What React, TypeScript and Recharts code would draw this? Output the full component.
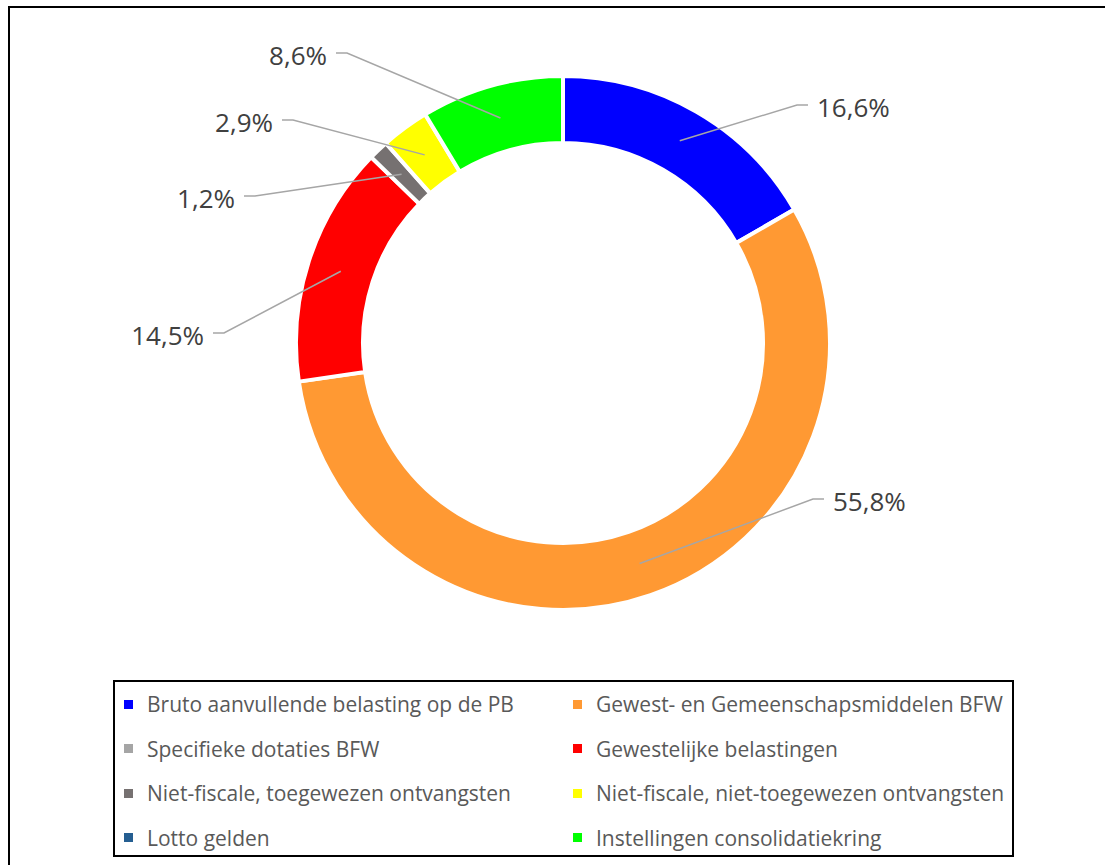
import { Cell, Legend, Pie, PieChart } from "recharts";

const categories = [
  "Bruto aanvullende belasting op de PB",
  "Gewest- en Gemeenschapsmiddelen BFW",
  "Specifieke dotaties BFW",
  "Gewestelijke belastingen",
  "Niet-fiscale, toegewezen ontvangsten",
  "Niet-fiscale, niet-toegewezen ontvangsten",
  "Lotto gelden",
  "Instellingen consolidatiekring",
];

const shares = [16.6, 55.8, 0, 14.5, 1.2, 2.9, 0, 8.6];

const colors = [
  "#0000FF",
  "#FF9933",
  "#A5A5A5",
  "#FF0000",
  "#767171",
  "#FFFF00",
  "#255E91",
  "#00FF00",
];

// where each label's leader line bends, relative to the donut centre
const labelAnchors: Record<string, [number, number]> = {
  "Bruto aanvullende belasting op de PB": [234, -238],
  "Gewest- en Gemeenschapsmiddelen BFW": [250, 156],
  "Gewestelijke belastingen": [-339, -10],
  "Niet-fiscale, toegewezen ontvangsten": [-308, -147],
  "Niet-fiscale, niet-toegewezen ontvangsten": [-270, -223],
  "Instellingen consolidatiekring": [-216, -290],
};

const data = categories.map((name, i) => ({ name, value: shares[i], color: colors[i] }));

const RADIAN = Math.PI / 180;
const fmt = (v: number) => v.toFixed(1).replace(".", ",") + "%";

function renderLabel(props: any) {
  const { cx, cy, midAngle, innerRadius, outerRadius, value, name } = props;
  const anchor = labelAnchors[name];
  if (!value || !anchor) return null;
  const r = (innerRadius + outerRadius) / 2;
  const sx = cx + r * Math.cos(-midAngle * RADIAN);
  const sy = cy + r * Math.sin(-midAngle * RADIAN);
  const ex = cx + anchor[0];
  const ey = cy + anchor[1];
  const side = anchor[0] > 0 ? 1 : -1;
  const hx = ex + side * 11;
  return (
    <g>
      <polyline
        points={`${sx},${sy} ${ex},${ey} ${hx},${ey}`}
        fill="none"
        stroke="#A6A6A6"
        strokeWidth={1.5}
      />
      <text
        x={hx + side * 9}
        y={ey + 2}
        textAnchor={side > 0 ? "start" : "end"}
        dominantBaseline="central"
        fill="#404040"
        fontSize={26}
        fontFamily="'Open Sans', sans-serif"
      >
        {fmt(value)}
      </text>
    </g>
  );
}

// keep the legend in data order (recharts sorts the payload by default)
function LegendBox() {
  return (
    <div
      style={{
        boxSizing: "border-box",
        width: 901,
        height: 177,
        border: "2px solid #000",
        display: "grid",
        gridTemplateColumns: "449px 449px",
        gridAutoRows: "44.5px",
        fontFamily: "'Open Sans', sans-serif",
        fontSize: 21,
        color: "#595959",
      }}
    >
      {data.map((d) => (
        <div key={d.name} style={{ display: "flex", alignItems: "center", paddingLeft: 9 }}>
          <span style={{ width: 9, height: 9, background: d.color, marginRight: 14, flexShrink: 0 }} />
          <span style={{ whiteSpace: "nowrap" }}>{d.name}</span>
        </div>
      ))}
    </div>
  );
}

export default function App() {
  return (
    <div style={{ position: "absolute", left: 0, top: 0, width: 1105, height: 865, overflow: "hidden", background: "#fff" }}>
      <div
        style={{
          position: "absolute",
          left: 8,
          top: 6,
          width: 1120,
          height: 880,
          border: "2px solid #000",
        }}
      />
      <PieChart width={1105} height={865} margin={{ top: 0, right: 0, bottom: 0, left: 0 }}>
        <Pie
          data={data}
          dataKey="value"
          nameKey="name"
          cx={563}
          cy={343}
          innerRadius={200}
          outerRadius={267}
          startAngle={90}
          endAngle={-270}
          stroke="#FFFFFF"
          strokeWidth={4}
          label={renderLabel}
          labelLine={false}
          isAnimationActive={false}
        >
          {data.map((d) => (
            <Cell key={d.name} fill={d.color} />
          ))}
        </Pie>
        <Legend
          verticalAlign="bottom"
          content={<LegendBox />}
          wrapperStyle={{ position: "absolute", left: 113, top: 680, width: 901, height: 177, bottom: "auto" }}
        />
      </PieChart>
    </div>
  );
}
